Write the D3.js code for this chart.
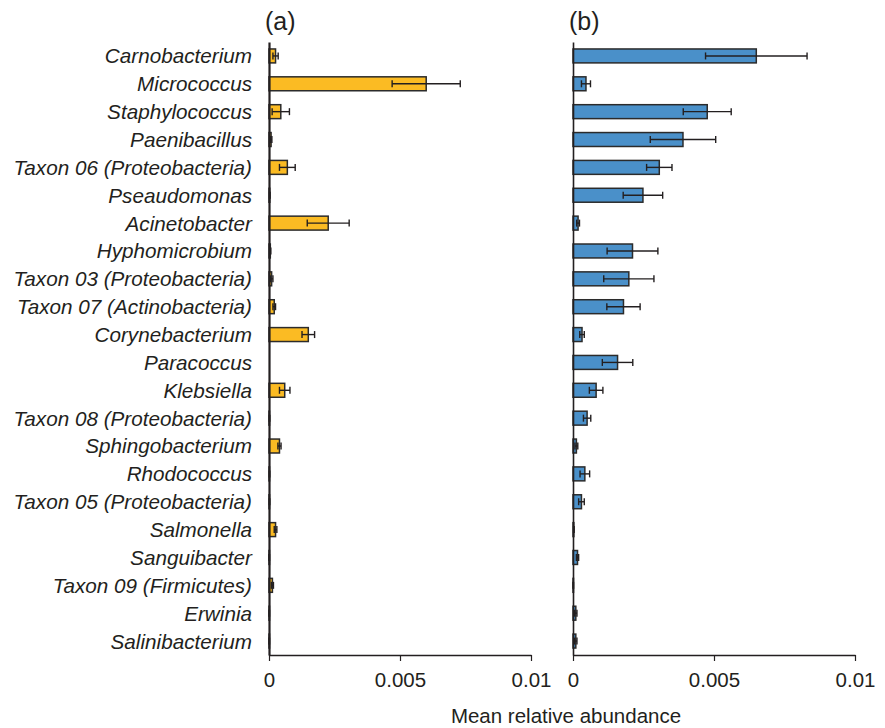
<!DOCTYPE html>
<html>
<head>
<meta charset="utf-8">
<script src="https://cdn.jsdelivr.net/npm/d3@7"></script>
<style>
  html, body { margin: 0; padding: 0; background: #fff; }
  svg { display: block; font-family: "Liberation Sans", Arial, sans-serif; }
</style>
</head>
<body>
<svg id="chart" width="885" height="728"></svg>
<script>
// Taxa, top to bottom
const taxa = [
  "Carnobacterium", "Micrococcus", "Staphylococcus", "Paenibacillus",
  "Taxon 06 (Proteobacteria)", "Pseaudomonas", "Acinetobacter", "Hyphomicrobium",
  "Taxon 03 (Proteobacteria)", "Taxon 07 (Actinobacteria)", "Corynebacterium",
  "Paracoccus", "Klebsiella", "Taxon 08 (Proteobacteria)", "Sphingobacterium",
  "Rhodococcus", "Taxon 05 (Proteobacteria)", "Salmonella", "Sanguibacter",
  "Taxon 09 (Firmicutes)", "Erwinia", "Salinibacterium"
];

// (a) mean relative abundance and its error
const meanA = [0.00025, 0.0060, 0.00045, 0.00008, 0.0007, 0.00003, 0.00226, 0.00005,
               0.0001, 0.0002, 0.0015, 0, 0.0006, 0.00002, 0.0004, 0.00002,
               0.00002, 0.00025, 0.00001, 0.00013, 0.00001, 0.00001];
const errA  = [0.0001, 0.0013, 0.00033, 0.00003, 0.0003, 0.00001, 0.0008, 0.00002,
               0.00005, 0.00005, 0.00024, 0, 0.0002, 0.00001, 0.00006, 0.00001,
               0.00001, 0.00005, 0.00001, 0.00004, 0.00001, 0.00001];

// (b) mean relative abundance and its error
const meanB = [0.0065, 0.00046, 0.00476, 0.0039, 0.00306, 0.00248, 0.00018, 0.00211,
               0.00198, 0.00179, 0.00032, 0.00158, 0.00082, 0.0005, 0.00012, 0.00042,
               0.0003, 0.00003, 0.00016, 0.00001, 0.0001, 0.0001];
const errB  = [0.0018, 0.00016, 0.00085, 0.00116, 0.00045, 0.0007, 0.00005, 0.0009,
               0.00089, 0.00059, 0.00008, 0.00054, 0.00024, 0.00013, 0.00005, 0.00017,
               0.0001, 0.00001, 0.00004, 0.00001, 0.00004, 0.00004];

const xTicks = [0, 0.005, 0.01];
const xTickLabels = ["0", "0.005", "0.01"];
const panelTitles = ["(a)", "(b)"];
const axisTitle = "Mean relative abundance";

const svg = d3.select("#chart");
const ink = "#231f20";

const y = d3.scaleBand()
  .domain(taxa)
  .range([42, 655])
  .paddingInner(0.5)
  .paddingOuter(0.25);

const panels = [
  { mean: meanA, err: errA, x0: 269, x1: 531, fill: "#fbbb23", title: panelTitles[0], labels: true, yw: 2.2 },
  { mean: meanB, err: errB, x0: 573, x1: 855, fill: "#4a90c9", title: panelTitles[1], labels: false, yw: 1.6 }
];

panels.forEach(p => {
  const x = d3.scaleLinear().domain([0, 0.01]).range([p.x0, p.x1]);
  const g = svg.append("g");
  const rows = taxa.map((t, i) => ({ t, v: p.mean[i], e: p.err[i] }));

  // bars
  g.append("g").selectAll("rect")
    .data(rows.filter(d => d.v > 0))
    .join("rect")
    .attr("x", x(0))
    .attr("y", d => y(d.t))
    .attr("width", d => Math.max(x(d.v) - x(0), 0.5))
    .attr("height", y.bandwidth())
    .attr("fill", p.fill)
    .attr("stroke", "#2b2b2b")
    .attr("stroke-width", 1.5);

  // error bars
  const cap = 3.5;
  const eb = g.append("g").attr("stroke", ink).attr("stroke-width", 1.4)
    .selectAll("g")
    .data(rows.filter(d => d.e > 0))
    .join("g")
    .attr("transform", d => `translate(0,${y(d.t) + y.bandwidth() / 2})`);
  eb.append("line")
    .attr("x1", d => x(Math.max(d.v - d.e, 0)))
    .attr("x2", d => x(d.v + d.e))
    .attr("y1", 0).attr("y2", 0);
  eb.append("line")
    .attr("x1", d => x(Math.max(d.v - d.e, 0))).attr("x2", d => x(Math.max(d.v - d.e, 0)))
    .attr("y1", -cap).attr("y2", cap);
  eb.append("line")
    .attr("x1", d => x(d.v + d.e)).attr("x2", d => x(d.v + d.e))
    .attr("y1", -cap).attr("y2", cap);

  // x axis
  const xa = g.append("g")
    .attr("transform", `translate(0,655)`)
    .call(d3.axisBottom(x)
      .tickValues(xTicks)
      .tickFormat((d, i) => xTickLabels[i])
      .tickSize(6)
      .tickSizeOuter(0)
      .tickPadding(11));
  xa.select(".domain").attr("stroke", ink).attr("stroke-width", 1.5);
  xa.selectAll(".tick line").attr("stroke", ink).attr("stroke-width", 1.2);
  xa.selectAll(".tick text")
    .attr("fill", ink)
    .style("font-size", "20.5px")
    .style("font-family", "'Liberation Sans', Arial, sans-serif");

  // y axis
  const ya = g.append("g")
    .attr("transform", `translate(${x(0)},0)`)
    .call(d3.axisLeft(y).tickSize(0).tickSizeOuter(0).tickPadding(17));
  ya.select(".domain").attr("stroke", ink).attr("stroke-width", p.yw);
  if (p.labels) {
    ya.selectAll(".tick text")
      .attr("fill", ink)
      .attr("dy", "0.36em")
      .style("font-size", "20.7px")
      .style("font-style", "italic")
      .style("font-family", "'Liberation Sans', Arial, sans-serif");
  } else {
    ya.selectAll(".tick text").remove();
  }

  // panel title
  g.append("text")
    .attr("x", p.x0 - 4)
    .attr("y", 30)
    .attr("fill", ink)
    .style("font-size", "25px")
    .text(p.title);
});

// shared x axis title
svg.append("text")
  .attr("x", 566)
  .attr("y", 723)
  .attr("text-anchor", "middle")
  .attr("fill", ink)
  .style("font-size", "20.5px")
  .text(axisTitle);
</script>
</body>
</html>
